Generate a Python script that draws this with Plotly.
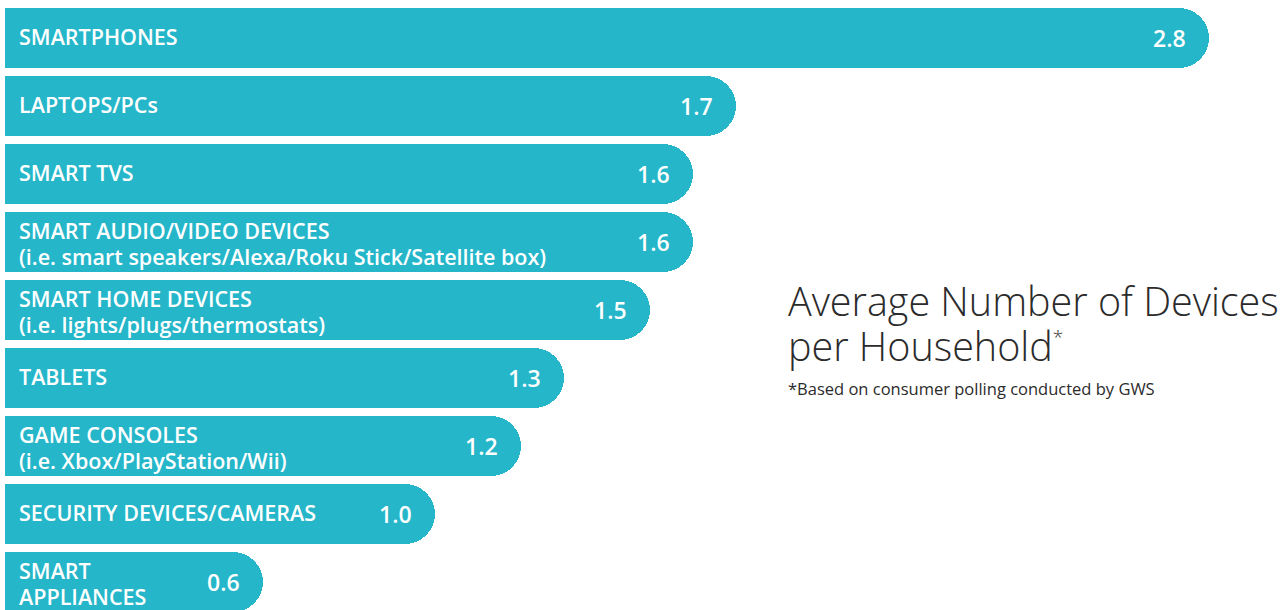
import plotly.graph_objects as go

categories = [
    "SMARTPHONES",
    "LAPTOPS/PCs",
    "SMART TVS",
    "SMART AUDIO/VIDEO DEVICES<br>(i.e. smart speakers/Alexa/Roku Stick/Satellite box)",
    "SMART HOME DEVICES<br>(i.e. lights/plugs/thermostats)",
    "TABLETS",
    "GAME CONSOLES<br>(i.e. Xbox/PlayStation/Wii)",
    "SECURITY DEVICES/CAMERAS",
    "SMART<br>APPLIANCES",
]
values = [2.8, 1.7, 1.6, 1.6, 1.5, 1.3, 1.2, 1.0, 0.6]
value_labels = ["2.8", "1.7", "1.6", "1.6", "1.5", "1.3", "1.2", "1.0", "0.6"]

title_line1 = "Average Number of Devices"
title_line2 = "per Household<sup><span style='font-size:19px'>*</span></sup>"
footnote = "*Based on consumer polling conducted by GWS"

BAR = "#25b6c9"
W, H = 1285, 610
FONT = "Open Sans"

fig = go.Figure()
fig.add_trace(go.Bar(
    x=values,
    y=list(range(len(categories))),
    orientation="h",
    marker=dict(color=BAR, line=dict(width=0), cornerradius="50%"),
    width=60 / 68,
    hoverinfo="skip",
))

px_per_unit = 430.0
x0 = -5 / px_per_unit
x1 = x0 + W / px_per_unit
r_top = -38 / 68
r_bot = r_top + H / 68

annotations = []
for i, (c, v, lab) in enumerate(zip(categories, values, value_labels)):
    lines = c.split("<br>")
    n = len(lines)
    for j, ln in enumerate(lines):
        if n == 1:
            yshift = 2
        else:
            yshift = -((j - (n - 1) / 2) * 26) - 1
        annotations.append(dict(
            x=0, y=i, xref="x", yref="y", text=ln, showarrow=False,
            xanchor="left", yanchor="middle", xshift=12, yshift=yshift, align="left",
            font=dict(family=FONT, size=21.5, color="white", weight=600),
        ))
    annotations.append(dict(
        x=v, y=i, xref="x", yref="y", text=lab, showarrow=False,
        xanchor="right", yanchor="middle", xshift=-21,
        font=dict(family=FONT, size=23, color="white", weight=600),
    ))

annotations += [
    dict(x=786 / W, y=1 - 301 / H, xref="paper", yref="paper", text=title_line1,
         showarrow=False, xanchor="left", yanchor="middle",
         font=dict(family=FONT, size=39.5, color="#2b2b2b", weight=300)),
    dict(x=786 / W, y=1 - 346 / H, xref="paper", yref="paper", text=title_line2,
         showarrow=False, xanchor="left", yanchor="middle",
         font=dict(family=FONT, size=39.5, color="#2b2b2b", weight=300)),
    dict(x=786 / W, y=1 - 389 / H, xref="paper", yref="paper", text=footnote,
         showarrow=False, xanchor="left", yanchor="middle",
         font=dict(family=FONT, size=16.5, color="#2b2b2b")),
]

fig.update_layout(
    width=W, height=H,
    margin=dict(l=0, r=0, t=0, b=0),
    paper_bgcolor="white", plot_bgcolor="white",
    showlegend=False,
    xaxis=dict(range=[x0, x1], visible=False, fixedrange=True),
    yaxis=dict(range=[r_bot, r_top], visible=False, fixedrange=True),
    annotations=annotations,
    bargap=0,
)

fig.write_html(
    "out.html",
    config={"displayModeBar": False},
    post_script="document.body.style.margin='0';document.body.style.overflow='hidden';",
)
